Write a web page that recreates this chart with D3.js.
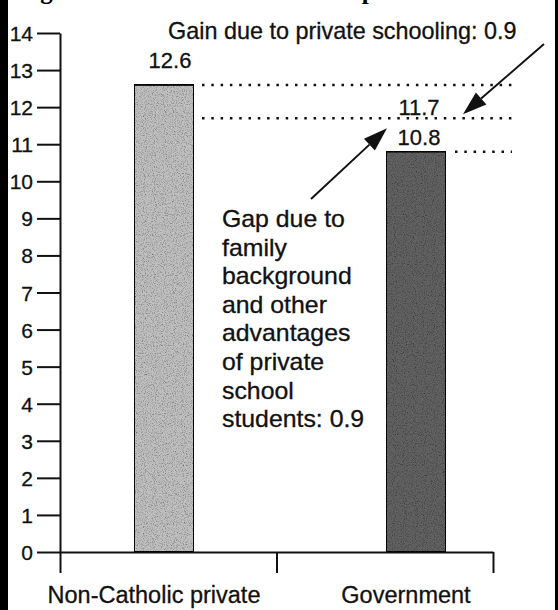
<!DOCTYPE html>
<html>
<head>
<meta charset="utf-8">
<script src="https://cdn.jsdelivr.net/npm/d3@7"></script>
<style>
  body { margin: 0; background: #fff; }
  text { font-family: "Liberation Sans", Arial, sans-serif; fill: #111; stroke: #111; stroke-width: 0.3px; }
</style>
</head>
<body>
<div id="chart"></div>
<script>
// data
var categories = ["Non-Catholic private", "Government"];
var scores = [12.6, 10.8];
var barFills = ["#c0c0c0", "#626262"];
var yTicks = d3.range(0, 15);
var adjustedScore = 11.7; // government score plus the private schooling gain
var gainLabel = "Gain due to private schooling: 0.9";
var gapLines = ["Gap due to", "family", "background", "and other",
                "advantages", "of private", "school", "students: 0.9"];
var titleText = "Figure 4: Mean TER scores comparison";

var svgWidth = 558, svgHeight = 610;

var svg = d3.select("#chart").append("svg")
    .attr("width", svgWidth)
    .attr("height", svgHeight);

// grainy scan look for the bars
var defs = svg.append("defs");
var grain = defs.append("filter").attr("id", "grain")
    .attr("x", 0).attr("y", 0).attr("width", "100%").attr("height", "100%");
grain.append("feTurbulence").attr("type", "fractalNoise")
    .attr("baseFrequency", 0.9).attr("numOctaves", 2).attr("seed", 4).attr("result", "noise");
grain.append("feColorMatrix").attr("in", "noise").attr("type", "matrix")
    .attr("values", "0 0 0 0 0  0 0 0 0 0  0 0 0 0 0  1.6 0 0 0 -0.72").attr("result", "dots");
grain.append("feComposite").attr("in", "dots").attr("in2", "SourceGraphic")
    .attr("operator", "in").attr("result", "clipped");
var merge = grain.append("feMerge");
merge.append("feMergeNode").attr("in", "SourceGraphic");
merge.append("feMergeNode").attr("in", "clipped");

// scales
var y = d3.scaleLinear().domain([0, 14]).range([552, 33]);
var xAxisScale = d3.scaleLinear().domain([0, 2]).range([60, 493]);
var xBar = d3.scalePoint().domain(categories).range([164, 416]);
var barWidth = 60;

// page frame (scan edges) and clipped title
svg.append("rect").attr("x", 0).attr("y", 0).attr("width", 8).attr("height", svgHeight).attr("fill", "#000");
svg.append("rect").attr("x", 555).attr("y", 0).attr("width", 3).attr("height", svgHeight).attr("fill", "#000");
svg.append("text")
    .attr("x", 18).attr("y", -1)
    .style("font-family", "'Liberation Serif', serif")
    .style("font-weight", "bold")
    .style("font-size", "25px")
    .style("fill", "#000")
    .style("stroke", "none")
    .text(titleText);

// y axis
var yAxis = d3.axisLeft(y).tickValues(yTicks).tickSize(23).tickPadding(4).tickSizeOuter(0);
var yg = svg.append("g").attr("transform", "translate(60,0)").call(yAxis);
yg.selectAll("text").style("font-size", "21px").attr("dy", "0.36em");

// x axis (unlabelled ticks)
var xAxis = d3.axisBottom(xAxisScale).tickValues([0, 1, 2]).tickSize(21).tickSizeOuter(0).tickFormat("");
svg.append("g").attr("transform", "translate(0,552)").call(xAxis);

svg.selectAll(".domain, .tick line").attr("stroke", "#111").attr("stroke-width", 2);

// bars
svg.selectAll(".bar")
    .data(scores)
    .enter().append("rect")
    .attr("class", "bar")
    .attr("x", function(d, i) { return xBar(categories[i]) - barWidth / 2; })
    .attr("y", function(d) { return y(d); })
    .attr("width", barWidth)
    .attr("height", function(d) { return y(0) - y(d); })
    .attr("fill", function(d, i) { return barFills[i]; })
    .attr("stroke", "#111")
    .attr("stroke-width", 2)
    .attr("filter", "url(#grain)");

// category labels
svg.selectAll(".cat")
    .data(categories)
    .enter().append("text")
    .attr("x", function(d) { return xBar(d) - 10; })
    .attr("y", 603)
    .attr("text-anchor", "middle")
    .style("font-size", "23.5px")
    .text(function(d) { return d; });

// dotted reference lines
var govRight = xBar("Government") + barWidth / 2;
var npRight = xBar("Non-Catholic private") + barWidth / 2;
var dotted = [
    { v: scores[0], x0: npRight + 8 },
    { v: adjustedScore, x0: npRight + 8 },
    { v: scores[1], x0: govRight + 9 }
];
svg.selectAll(".dot-line")
    .data(dotted)
    .enter().append("line")
    .attr("x1", function(d) { return d.x0; })
    .attr("x2", 512)
    .attr("y1", function(d) { return y(d.v); })
    .attr("y2", function(d) { return y(d.v); })
    .attr("stroke", "#111")
    .attr("stroke-width", 2.5)
    .attr("stroke-dasharray", "2.5 6.8");

// value labels
var valueLabels = [
    { v: scores[0], x: xBar("Non-Catholic private") + 6, dy: -17 },
    { v: adjustedScore, x: govRight - 27, dy: -3 },
    { v: scores[1], x: govRight - 27, dy: -7 }
];
svg.selectAll(".val")
    .data(valueLabels)
    .enter().append("text")
    .attr("x", function(d) { return d.x; })
    .attr("y", function(d) { return y(d.v) + d.dy; })
    .attr("text-anchor", "middle")
    .style("font-size", "22px")
    .text(function(d) { return d3.format(".1f")(d.v); });

// annotations
svg.append("text")
    .attr("x", 168).attr("y", 39)
    .style("font-size", "23.4px")
    .text(gainLabel);

svg.append("g").attr("transform", "translate(222,0) scale(1.08,1)")
    .selectAll("text")
    .data(gapLines)
    .enter().append("text")
    .attr("x", 0)
    .attr("y", function(d, i) { return 227 + i * 28.6; })
    .style("font-size", "23px")
    .text(function(d) { return d; });

function arrow(x1, y1, x2, y2) {
    var a = Math.atan2(y2 - y1, x2 - x1), len = 24, half = 8;
    var bx = x2 - len * Math.cos(a), by = y2 - len * Math.sin(a);
    svg.append("line")
        .attr("x1", x1).attr("y1", y1).attr("x2", bx).attr("y2", by)
        .attr("stroke", "#111").attr("stroke-width", 2);
    var pts = [
        [x2, y2],
        [bx + half * Math.sin(a), by - half * Math.cos(a)],
        [bx - half * Math.sin(a), by + half * Math.cos(a)]
    ];
    svg.append("polygon").attr("points", pts.join(" ")).attr("fill", "#111");
}
arrow(544, 44, govRight + 17, y(adjustedScore) - 4);
arrow(311, 199, govRight - 59, y(adjustedScore) + 10);
</script>
</body>
</html>
